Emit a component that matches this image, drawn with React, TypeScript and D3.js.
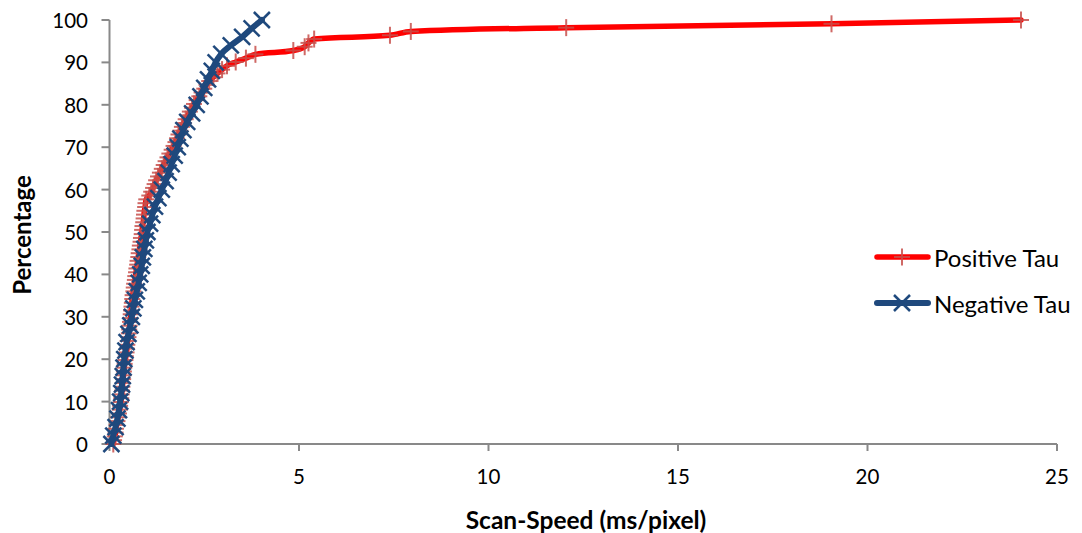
import React from "react";
import * as d3 from "d3";

// Negative Tau (blue, X markers)
const negY = [0, 2, 4, 6, 8, 10, 12, 14, 16, 18, 20, 22, 24, 26, 28, 30, 32, 34, 36, 38, 40, 42, 44, 46, 48, 50, 52, 54, 56, 58, 60, 62, 64, 66, 68, 70, 72, 74, 76, 78, 80, 82, 84, 86, 88, 90, 92, 94, 96, 98, 100];
const negX = [0.05, 0.10, 0.16, 0.21, 0.25, 0.28, 0.31, 0.33, 0.35, 0.37, 0.39, 0.42, 0.45, 0.50, 0.55, 0.59, 0.63, 0.67, 0.72, 0.77, 0.81, 0.85, 0.88, 0.92, 0.96, 1.00, 1.07, 1.13, 1.20, 1.29, 1.38, 1.48, 1.56, 1.64, 1.72, 1.80, 1.87, 1.95, 2.05, 2.18, 2.30, 2.40, 2.50, 2.60, 2.70, 2.80, 2.95, 3.20, 3.50, 3.75, 4.02];

// Positive Tau (red, + markers)
const posY = [0, 0.9, 1.8, 2.7, 3.6, 4.5, 5.4, 6.3, 7.2, 8.1, 9.0, 9.9, 10.8, 11.7, 12.6, 13.5, 14.4, 15.3, 16.2, 17.1, 18.0, 18.9, 19.8, 20.7, 21.6, 22.5, 23.4, 24.3, 25.2, 26.1, 27.0, 27.9, 28.8, 29.7, 30.6, 31.5, 32.4, 33.3, 34.2, 35.1, 36.0, 36.9, 37.8, 38.7, 39.6, 40.5, 41.4, 42.3, 43.2, 44.1, 45.0, 45.9, 46.8, 47.7, 48.6, 49.5, 50.5, 51.4, 52.3, 53.2, 54.1, 55.0, 55.9, 56.8, 57.7, 58.6, 59.5, 60.4, 61.3, 62.2, 63.1, 64.0, 64.9, 65.8, 66.7, 67.6, 68.5, 69.4, 70.3, 71.2, 72.1, 73.0, 73.9, 74.8, 75.7, 76.6, 77.5, 78.4, 79.3, 80.2, 81.1, 82.0, 82.9, 83.8, 84.7, 85.6, 86.5, 87.4, 88.3, 89.2, 90.1, 91.0, 91.9, 92.8, 93.7, 94.6, 95.5, 96.4, 97.3, 98.2, 99.1, 100];
const posX = [0.10, 0.12, 0.14, 0.16, 0.17, 0.19, 0.21, 0.23, 0.25, 0.27, 0.28, 0.30, 0.31, 0.32, 0.33, 0.34, 0.35, 0.36, 0.37, 0.38, 0.39, 0.40, 0.42, 0.43, 0.45, 0.46, 0.47, 0.48, 0.50, 0.51, 0.52, 0.53, 0.54, 0.55, 0.56, 0.57, 0.58, 0.59, 0.60, 0.61, 0.63, 0.64, 0.65, 0.67, 0.68, 0.70, 0.71, 0.73, 0.74, 0.76, 0.77, 0.79, 0.80, 0.82, 0.83, 0.85, 0.86, 0.87, 0.89, 0.90, 0.91, 0.92, 0.94, 0.95, 0.97, 1.05, 1.10, 1.15, 1.19, 1.23, 1.28, 1.33, 1.38, 1.43, 1.48, 1.53, 1.58, 1.64, 1.69, 1.74, 1.78, 1.82, 1.87, 1.91, 1.96, 2.01, 2.07, 2.12, 2.18, 2.23, 2.30, 2.37, 2.43, 2.50, 2.56, 2.63, 2.74, 2.85, 2.97, 3.10, 3.33, 3.60, 3.85, 4.85, 5.15, 5.25, 5.40, 7.40, 7.95, 12.05, 19.05, 24.05];

const xTicks = [0, 5, 10, 15, 20, 25];
const yTicks = [0, 10, 20, 30, 40, 50, 60, 70, 80, 90, 100];
const seriesNames = ["Positive Tau", "Negative Tau"];
const xTitle = "Scan-Speed (ms/pixel)";
const yTitle = "Percentage";

const W = 1082;
const H = 533;
const FONT = "Lato, 'Open Sans', sans-serif";
const RED = "#FF0000";
const RED_MK = "#C8504C";
const BLUE = "#1F497D";
const AXIS = "#898989";

export default function App() {
  const x = d3.scaleLinear().domain([0, 25]).range([109.5, 1057]);
  const y = d3.scaleLinear().domain([0, 100]).range([444, 20]);

  const pos = posX.map((v, i) => [v, posY[i]] as [number, number]);
  const neg = negX.map((v, i) => [v, negY[i]] as [number, number]);

  const line = d3
    .line<[number, number]>()
    .x((d) => x(d[0]))
    .y((d) => y(d[1]))
    .curve(d3.curveMonotoneX);

  const plus = (cx: number, cy: number, key: string | number) => (
    <g key={key} stroke={RED_MK} strokeWidth={2} opacity={0.85}>
      <line x1={cx - 8} x2={cx + 8} y1={cy} y2={cy} />
      <line x1={cx} x2={cx} y1={cy - 8.5} y2={cy + 8.5} />
    </g>
  );
  const cross = (cx: number, cy: number, key: string | number) => (
    <g key={key} stroke={BLUE} strokeWidth={2.5}>
      <line x1={cx - 8} x2={cx + 8} y1={cy - 8} y2={cy + 8} />
      <line x1={cx - 8} x2={cx + 8} y1={cy + 8} y2={cy - 8} />
    </g>
  );

  const legY = [257, 303];

  return (
    <svg
      width={W}
      height={H}
      style={{ position: "absolute", left: 0, top: 0, background: "#fff" }}
      fontFamily={FONT}
    >
      <rect width={W} height={H} fill="#fff" />
      {/* axes */}
      <line x1={x(0)} x2={x(0)} y1={y(100)} y2={y(0)} stroke={AXIS} strokeWidth={2} />
      <line x1={x(0)} x2={x(25)} y1={y(0)} y2={y(0)} stroke={AXIS} strokeWidth={2} />
      {yTicks.map((t) => (
        <g key={"y" + t}>
          <line x1={x(0) - 8} x2={x(0)} y1={y(t)} y2={y(t)} stroke={AXIS} strokeWidth={2} />
          <text x={88} y={y(t)} textAnchor="end" dominantBaseline="central" fontSize={20.5} fill="#000">
            {t}
          </text>
        </g>
      ))}
      {xTicks.map((t) => (
        <g key={"x" + t}>
          <line x1={x(t)} x2={x(t)} y1={y(0)} y2={y(0) + 7} stroke={AXIS} strokeWidth={2} />
          <text x={x(t)} y={476} textAnchor="middle" dominantBaseline="central" fontSize={20.5} fill="#000">
            {t}
          </text>
        </g>
      ))}
      <text x={586} y={519} textAnchor="middle" dominantBaseline="central" fontSize={24.5} fontWeight="bold">
        {xTitle}
      </text>
      <text
        transform={`translate(21,235) rotate(-90)`}
        textAnchor="middle"
        dominantBaseline="central"
        fontSize={24}
        fontWeight="bold"
      >
        {yTitle}
      </text>

      {/* Positive Tau */}
      <path d={line(pos) || ""} fill="none" stroke={RED} strokeWidth={5.5} strokeLinejoin="round" strokeLinecap="round" />
      {pos.map((d, i) => plus(x(d[0]), y(d[1]), "p" + i))}

      {/* Negative Tau */}
      <path d={line(neg) || ""} fill="none" stroke={BLUE} strokeWidth={6} strokeLinejoin="round" strokeLinecap="round" />
      {neg.map((d, i) => cross(x(d[0]), y(d[1]), "n" + i))}

      {/* legend */}
      <line x1={877} x2={928} y1={legY[0]} y2={legY[0]} stroke={RED} strokeWidth={5.5} strokeLinecap="round" />
      {plus(902, legY[0], "lp")}
      <text x={934} y={legY[0]} dominantBaseline="central" fontSize={24}>
        {seriesNames[0]}
      </text>
      <line x1={877} x2={928} y1={legY[1]} y2={legY[1]} stroke={BLUE} strokeWidth={6} strokeLinecap="round" />
      {cross(902, legY[1], "ln")}
      <text x={934} y={legY[1]} dominantBaseline="central" fontSize={24}>
        {seriesNames[1]}
      </text>
    </svg>
  );
}
